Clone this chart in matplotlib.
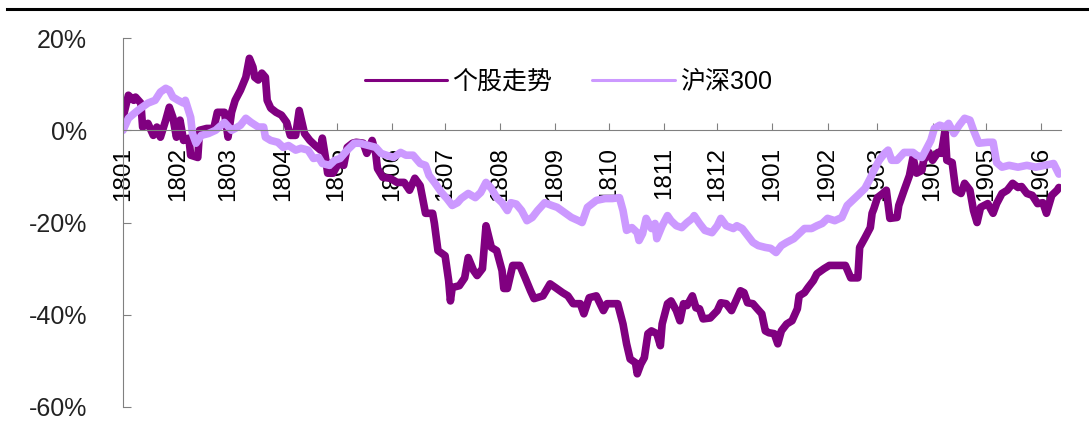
import numpy as np
import pandas as pd
import matplotlib
matplotlib.use('Agg')
import matplotlib.pyplot as plt
import matplotlib.dates as mdates
from matplotlib.lines import Line2D

plt.rcParams['font.family'] = ['Liberation Sans', 'Noto Sans CJK SC', 'DejaVu Sans']

start = pd.Timestamp('2018-01-01')
# days since 2018-01-01, values in %
stock_days = [0, 3, 6, 7, 10, 11, 14, 17, 19, 21, 24, 26, 28, 30, 32, 34, 37, 38, 42, 43,
              47, 51, 53, 57, 59, 61, 63, 66, 69, 71, 73, 74, 76, 78, 80, 81, 83, 86, 89, 92,
              94, 97, 99, 102, 105, 108, 111, 112, 114, 115, 118, 121, 124, 126, 129, 131, 135, 137, 140, 142,
              143, 146, 150, 154, 158, 161, 164, 167, 170, 174, 175, 177, 181, 183, 184, 185, 189, 192, 194, 197,
              199, 202, 204, 207, 210, 213, 214, 216, 219, 223, 226, 229, 231, 236, 240, 243, 247, 250, 253, 257,
              259, 262, 266, 270, 272, 278, 281, 283, 285, 288, 289, 291, 293, 295, 297, 300, 302, 303, 306, 308,
              311, 313, 315, 317, 320, 322, 324, 326, 330, 334, 336, 339, 342, 344, 347, 349, 351, 354, 356, 359,
              361, 363, 366, 368, 370, 373, 376, 379, 380, 383, 385, 388, 390, 394, 397, 406, 409, 413, 414, 417,
              420, 421, 422, 424, 427, 429, 431, 435, 436, 439, 442, 444, 446, 449, 450, 453, 455, 458, 460, 462,
              463, 466, 468, 471, 473, 476, 478, 480, 482, 486, 489, 491, 494, 497, 500, 503, 505, 508, 511, 514,
              517, 519, 522, 525, 526]
stock_vals = [2.8, 7.6, 6.5, 7.2, 5.9, 0.7, 1.5, -1.1, 0.7, -1.5, 2.2, 5.0, 2.8, -1.5, 2.2, -2.2, -1.7, -5.4, -5.9, 0.0,
              0.4, 0.4, 3.9, 3.9, -1.5, 3.9, 6.5, 8.7, 11.5, 15.6, 13.7, 11.5, 10.9, 12.4, 11.5, 6.5, 4.8, 3.9, 3.3, 1.7,
              -1.1, -1.1, 4.3, -0.7, -2.2, -3.3, -4.3, -1.7, -6.5, -9.3, -9.3, -7.2, -7.6, -3.7, -2.8, -2.6, -2.8, -5.0, -2.2, -5.0,
              -8.3, -10.2, -10.4, -11.3, -11.3, -13.0, -10.4, -12.0, -18.0, -18.0, -20.2, -26.1, -27.2, -32.6, -37.0, -34.1, -33.7, -32.0, -27.6, -30.4,
              -31.5, -30.0, -20.7, -25.4, -26.1, -30.4, -34.3, -34.3, -29.3, -29.3, -32.0, -34.8, -36.5, -35.9, -33.3, -34.1, -35.2, -35.9, -37.6, -37.6,
              -39.8, -36.3, -35.9, -39.1, -37.6, -37.6, -42.0, -46.3, -49.6, -50.4, -52.8, -50.7, -49.3, -44.1, -43.5, -44.1, -46.7, -42.0, -37.6, -37.0,
              -39.1, -41.3, -37.6, -38.0, -35.9, -38.5, -38.7, -40.9, -40.7, -39.1, -37.4, -37.6, -39.1, -37.4, -34.8, -35.2, -37.4, -37.6, -38.5, -39.8,
              -43.5, -43.9, -44.1, -46.3, -43.5, -42.0, -41.3, -38.7, -35.9, -35.2, -34.1, -32.6, -31.1, -30.0, -29.3, -29.3, -32.0, -32.0, -25.4, -23.3,
              -21.1, -18.0, -17.0, -14.6, -13.7, -13.0, -19.1, -18.9, -16.3, -13.0, -9.8, -5.9, -9.3, -8.7, -6.5, -4.8, -6.5, -4.8, -5.0, 0.0,
              -6.5, -7.0, -13.0, -13.7, -11.5, -13.0, -17.4, -20.0, -16.7, -15.9, -18.0, -15.9, -13.7, -13.0, -11.5, -12.4, -12.2, -13.7, -14.1, -15.9,
              -15.7, -18.0, -14.1, -13.0, -12.4]

hs300_days = [0, 3, 7, 10, 14, 18, 21, 24, 26, 28, 31, 34, 35, 38, 39, 41, 44, 48, 52, 54,
              57, 61, 63, 66, 69, 72, 76, 79, 80, 83, 87, 90, 93, 97, 100, 104, 107, 110, 112, 116,
              119, 122, 126, 130, 133, 138, 142, 145, 148, 152, 156, 159, 163, 167, 170, 172, 175, 179, 182, 185,
              188, 190, 194, 198, 201, 204, 207, 210, 213, 216, 218, 221, 224, 227, 230, 233, 237, 241, 244, 248,
              252, 256, 258, 261, 266, 271, 275, 279, 281, 283, 286, 289, 290, 292, 294, 297, 299, 300, 303, 306,
              308, 311, 314, 317, 320, 321, 324, 327, 331, 334, 336, 339, 343, 345, 348, 351, 354, 357, 361, 364,
              367, 370, 373, 377, 380, 383, 387, 390, 393, 396, 400, 404, 407, 410, 413, 417, 420, 422, 425, 428,
              430, 432, 435, 439, 444, 446, 449, 452, 454, 456, 459, 462, 464, 467, 470, 473, 476, 478, 481, 486,
              489, 491, 494, 498, 503, 508, 513, 518, 523, 526]
hs300_vals = [0.0, 2.6, 3.9, 4.8, 5.9, 6.5, 8.3, 9.1, 8.7, 7.2, 6.5, 5.9, 6.5, 2.8, -0.7, -2.8, -1.1, -0.7, 0.0, 0.7,
              1.7, 0.0, 0.4, 1.1, 2.6, 1.7, 0.7, 0.7, -1.5, -2.2, -2.6, -3.7, -3.3, -4.3, -3.9, -4.3, -6.1, -5.9, -7.2, -7.6,
              -6.5, -6.1, -4.3, -2.8, -2.8, -3.3, -3.7, -5.0, -5.4, -5.9, -4.8, -5.4, -5.4, -7.2, -7.6, -9.8, -11.3, -13.5, -14.8, -16.3,
              -15.7, -14.8, -13.7, -14.6, -13.5, -11.3, -12.6, -14.6, -15.7, -17.4, -15.7, -16.0, -17.4, -19.6, -18.9, -17.4, -15.7, -16.3, -16.7, -17.8,
              -18.9, -19.6, -20.0, -16.7, -15.2, -14.8, -14.8, -14.6, -17.4, -21.7, -21.1, -22.2, -23.9, -22.4, -19.1, -21.3, -20.2, -23.5, -20.7, -18.5,
              -19.6, -20.7, -21.1, -20.0, -19.1, -18.5, -20.2, -21.7, -22.2, -20.7, -19.1, -20.7, -21.3, -20.7, -21.3, -22.8, -24.3, -25.0, -25.4, -25.6,
              -26.5, -25.0, -24.3, -23.5, -22.4, -21.3, -21.3, -20.7, -20.2, -19.1, -19.6, -18.9, -16.3, -15.2, -14.1, -12.6, -10.4, -8.7, -6.5, -5.0,
              -4.3, -6.5, -6.5, -4.8, -4.8, -5.4, -5.9, -3.7, -2.2, 0.4, 1.1, 0.7, 1.5, -0.7, 1.1, 2.6, 2.2, 0.0, -2.8, -2.6,
              -2.6, -7.0, -8.0, -7.6, -8.0, -7.6, -8.0, -7.6, -7.2, -9.5]

stock_dates = start + pd.to_timedelta(stock_days, unit='D')
hs300_dates = start + pd.to_timedelta(hs300_days, unit='D')
month_ticks = pd.date_range('2018-01-01', '2019-06-01', freq='MS')

fig = plt.figure(figsize=(10.89, 4.30), dpi=100)
ax = fig.add_axes([0.113, 0.0535, 0.861, 0.858])

ax.plot(stock_dates, np.array(stock_vals) / 100, color='#800080', lw=5.5, label='个股走势',
        solid_joinstyle='round', solid_capstyle='round')
ax.plot(hs300_dates, np.array(hs300_vals) / 100, color='#CC99FF', lw=5.5, label='沪深300',
        solid_joinstyle='round', solid_capstyle='round')

ax.set_ylim(-0.6, 0.2)
ax.set_yticks([-0.6, -0.4, -0.2, 0, 0.2])
ax.set_yticklabels(['-60%', '-40%', '-20%', '0%', '20%'])
ax.set_xlim(start, start + pd.Timedelta(days=527))
ax.set_xticks(month_ticks)
ax.xaxis.set_major_formatter(mdates.DateFormatter('%y%m'))

for s in ['top', 'right']:
    ax.spines[s].set_visible(False)
ax.spines['left'].set_color('#808080')
ax.spines['bottom'].set_color('#808080')
ax.spines['bottom'].set_position(('data', 0))

ax.tick_params(axis='y', direction='in', length=6, color='#808080', pad=26,
               labelsize=18, labelcolor='#222222')
ax.tick_params(axis='x', direction='in', length=5, color='#808080', pad=12,
               labelsize=17.5, labelrotation=90, labelcolor='black')

leg = ax.legend(loc='center left', bbox_to_anchor=(0.258, 0.881), ncol=2, frameon=False,
                fontsize=18, handlelength=3.3, handletextpad=0.2, columnspacing=1.6,
                borderpad=0, borderaxespad=0)
for h in leg.get_lines():
    h.set_linewidth(2.2)

fig.add_artist(Line2D([0.006, 1.0], [0.978, 0.978], color='black', lw=2.2,
                      transform=fig.transFigure))

fig.savefig('out.png', dpi=100)
